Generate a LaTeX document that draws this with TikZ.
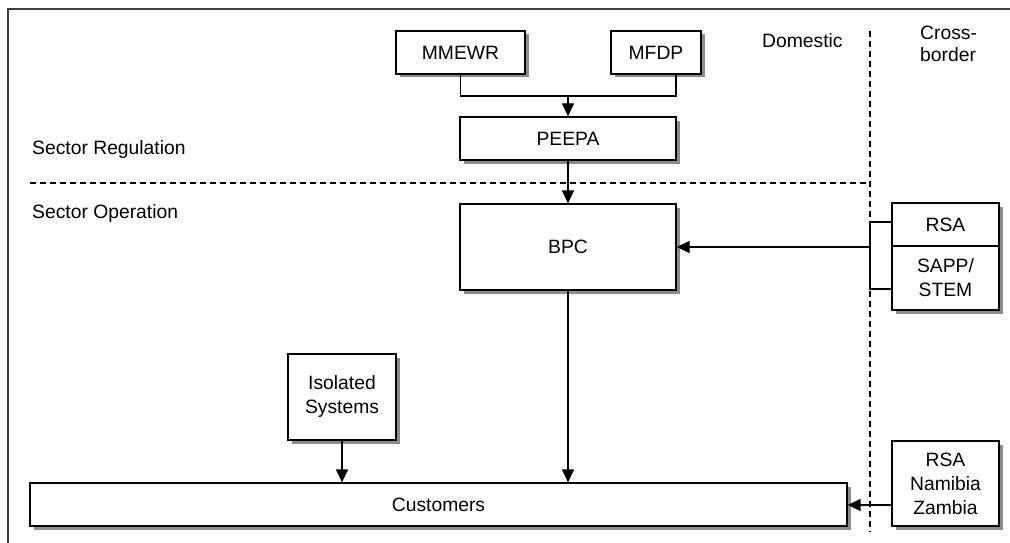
\documentclass[tikz,border=0pt]{standalone}
\usepackage{fontspec}
\setmainfont{Liberation Sans}
\usetikzlibrary{arrows.meta}
\begin{document}
\begin{tikzpicture}[x=1pt,y=-1pt,
  font=\fontsize{19.3}{24}\selectfont,
  box/.style={draw=black,line width=1.3pt,fill=white,inner sep=0pt,align=center,
    preaction={draw=none,fill=black!45,transform canvas={xshift=3.5pt,yshift=-3.5pt}}},
  conn/.style={line width=1.3pt},
  arr/.style={conn,-{Triangle[length=13pt,width=12pt]}},
  divider/.style={line width=1.3pt,dash pattern=on 6pt off 4pt},
  lbl/.style={inner sep=0pt,anchor=west,align=left}]
\useasboundingbox (0,0) rectangle (1010,543);
\fill[white] (0,0) rectangle (1010,543);
% frame
\draw[line width=1.5pt,black!75] (8,543) -- (8,9) -- (1010,9);
% dividers
\coordinate (dl) at (30,183);
\coordinate (dc) at (870,183);
\coordinate (dt) at (870,31);
\coordinate (db) at (870,532);
\draw[divider] (dl) -- (dc);
\draw[divider] (dt) -- (db);
% labels
\node[lbl] (sreg) at (32,150) {Sector Regulation};
\node[lbl] (sop) at (32,214) {Sector Operation};
\node[lbl] (dom) at (762,41) {Domestic};
\node[lbl,font=\fontsize{19.3}{22}\selectfont] (cb) at (920,44) {Cross-\\border};
% boxes
\node[box,minimum width=129pt,minimum height=43pt] (mmewr) at (460.5,52.5) {MMEWR};
\node[box,minimum width=90pt,minimum height=43pt] (mfdp) at (656,52.5) {MFDP};
\node[box,minimum width=216pt,minimum height=43pt] (peepa) at (568,138.5) {PEEPA};
\node[box,minimum width=216pt,minimum height=86pt] (bpc) at (568,247) {BPC};
\node[box,minimum width=107pt,minimum height=43pt] (rsa) at (945.5,224.5) {RSA};
\node[box,minimum width=107pt,minimum height=64pt] (sapp) at (945.5,278) {SAPP/\\STEM};
\node[box,minimum width=108pt,minimum height=86pt] (iso) at (342,397) {Isolated\\Systems};
\node[box,minimum width=817pt,minimum height=43pt] (cust) at (438.5,504.5) {Customers};
\node[box,minimum width=107pt,minimum height=85pt] (rnz) at (945.5,483.5) {RSA\\Namibia\\Zambia};
% connectors
\coordinate (j) at (568,96);
\coordinate (mfdpb) at (676,74);
\draw[conn] (mmewr.south) |- (j) -| (mfdpb);
\draw[arr] (j) -- (peepa.north);
\draw[arr] (peepa.south) -- (bpc.north);
\coordinate (brt) at (870,222);
\coordinate (brb) at (870,289);
\coordinate (brm) at (870,247);
\draw[conn] (rsa.west |- brt) -- (brt) -- (brb) -- (sapp.west |- brb);
\draw[arr] (brm) -- (bpc.east |- brm);
\draw[arr] (bpc.south) -- (bpc.south |- cust.north);
\draw[arr] (iso.south) -- (iso.south |- cust.north);
\draw[arr] (rnz.west |- 0,505) -- (cust.east |- 0,505);
\end{tikzpicture}
\end{document}
